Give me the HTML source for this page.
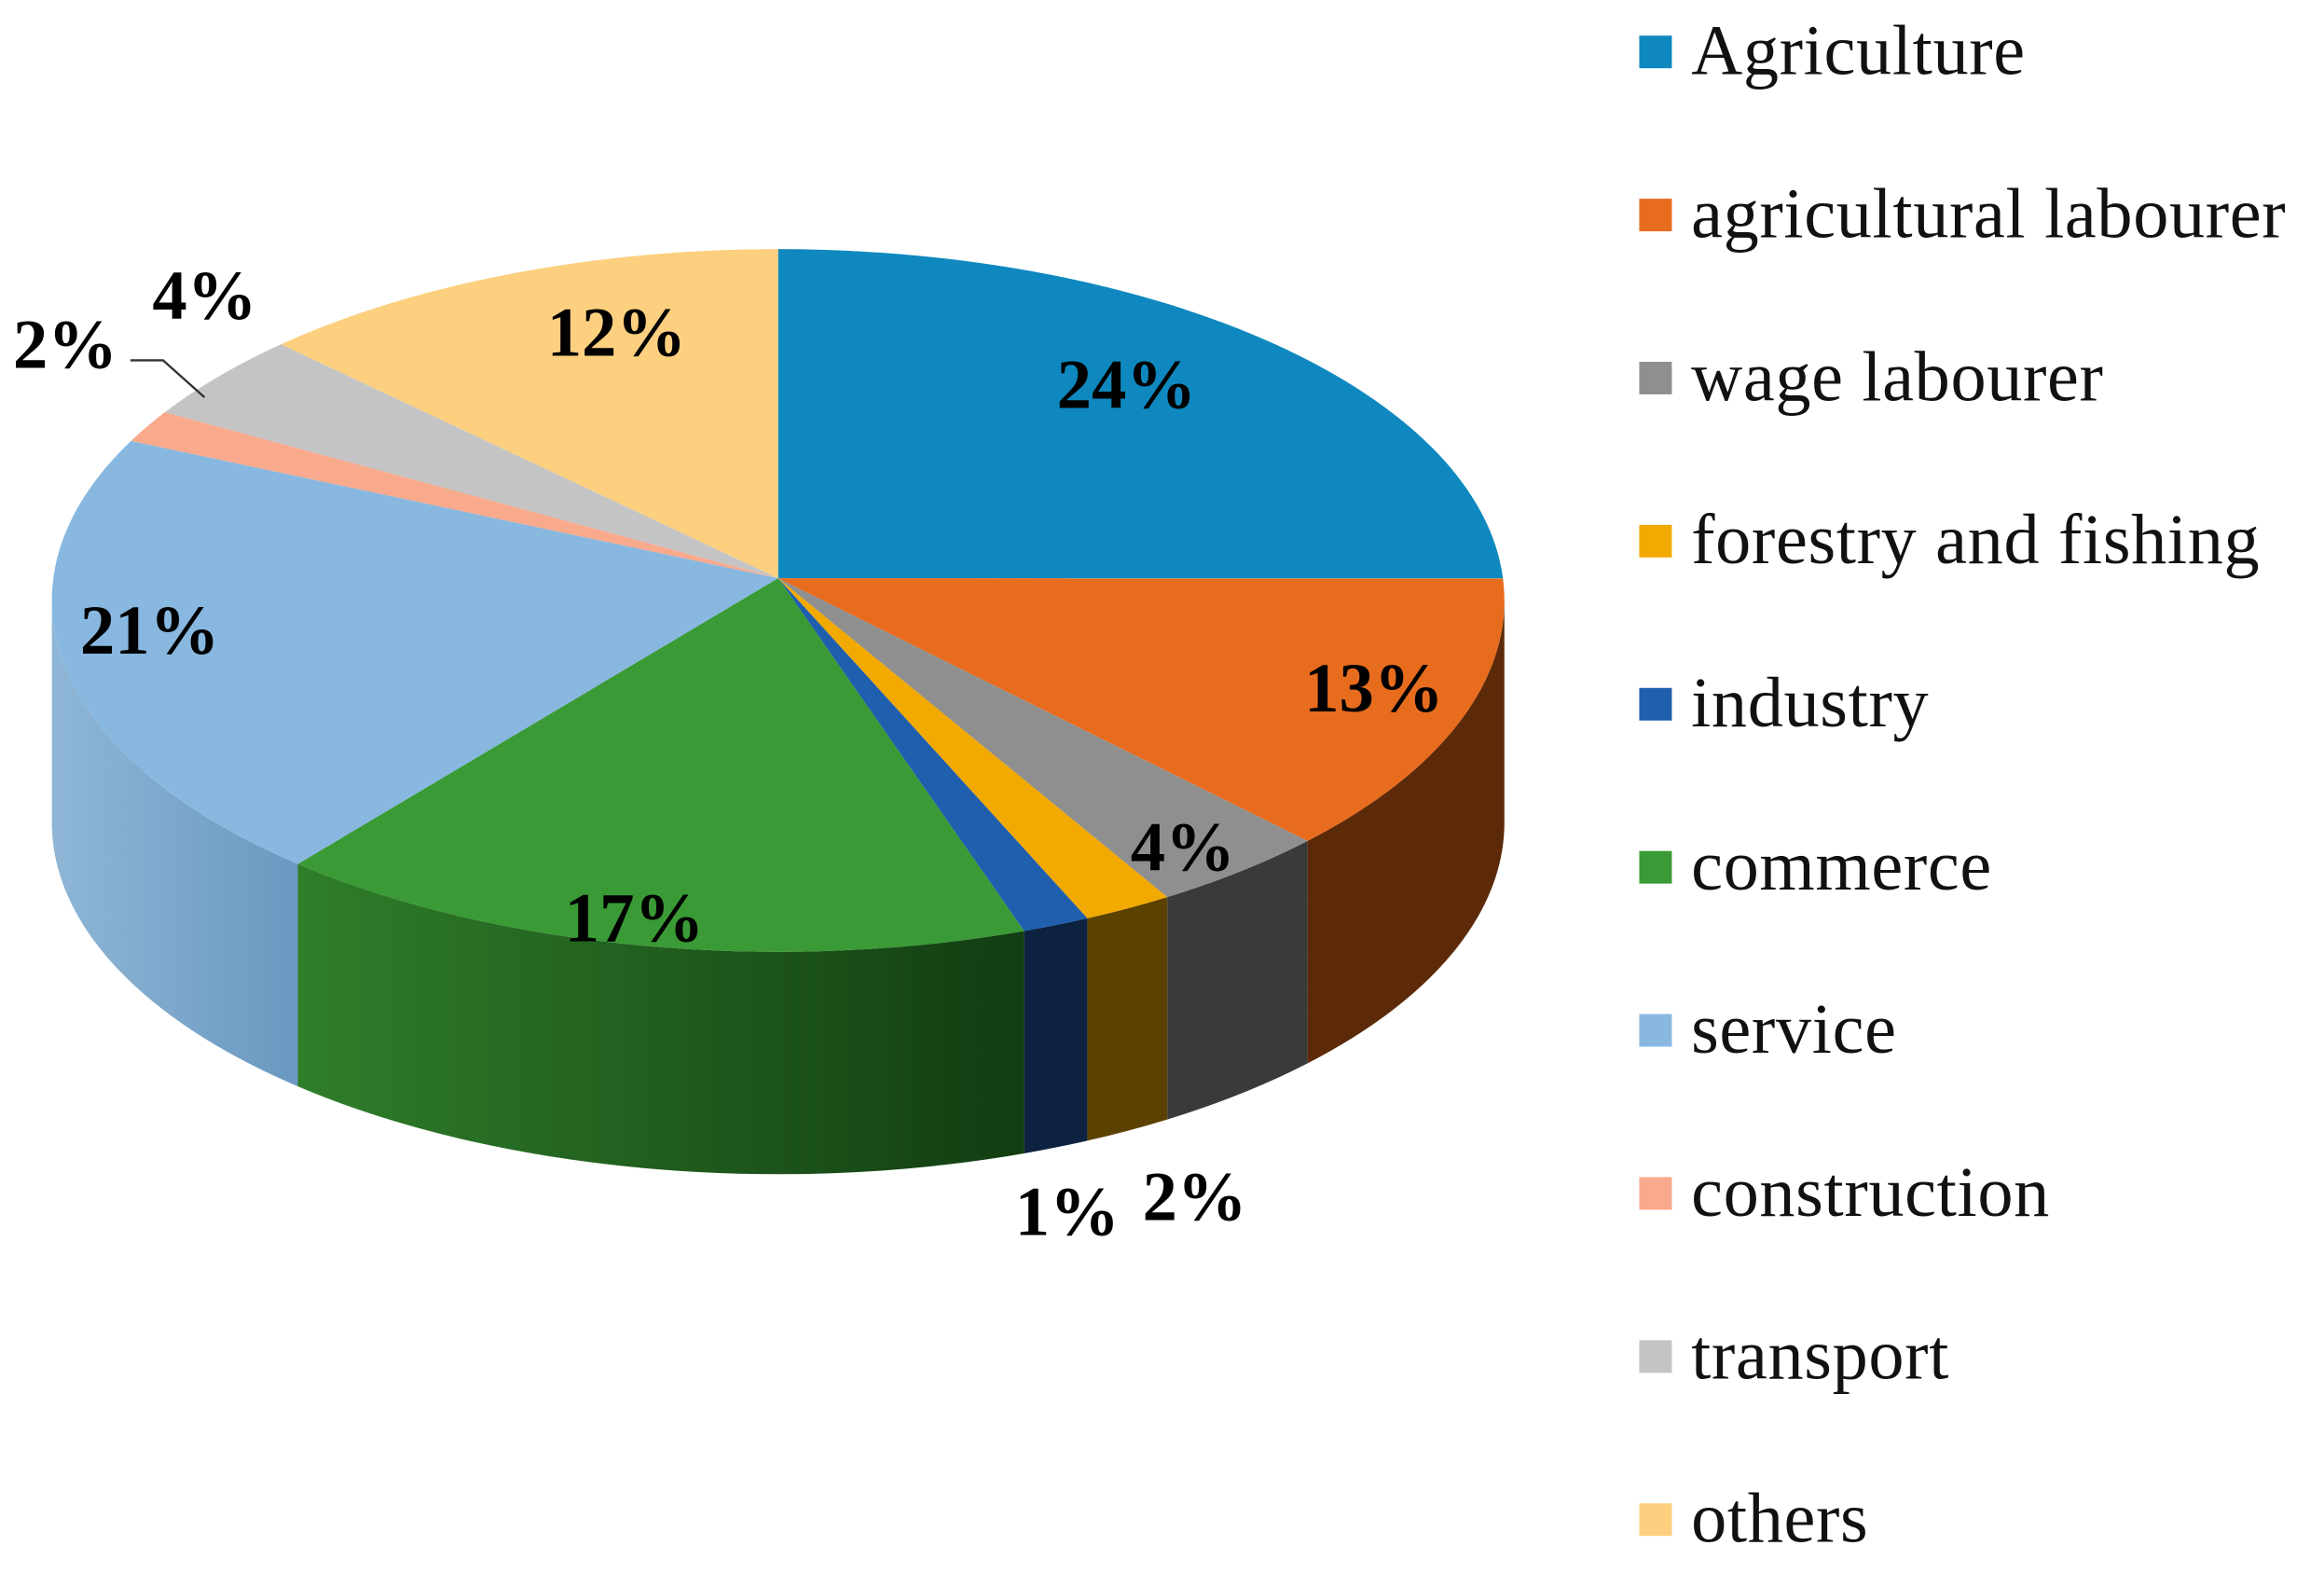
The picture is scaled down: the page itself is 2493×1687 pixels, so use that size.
<!DOCTYPE html>
<html><head><meta charset="utf-8"><style>
html,body{margin:0;padding:0;background:#fff;}
svg{display:block;}
text{font-family:"Liberation Serif",serif;}
</style></head><body>
<svg id="chart" width="2493" height="1687" viewBox="0 0 1568 1061" xmlns="http://www.w3.org/2000/svg">
<defs>
<linearGradient id="gGreen" x1="0" x2="1" y1="0" y2="0"><stop offset="0" stop-color="#2f7e2a"/><stop offset="1" stop-color="#123d12"/></linearGradient>
<linearGradient id="gBlue" x1="0" x2="1" y1="0" y2="0"><stop offset="0" stop-color="#8fb6d6"/><stop offset="1" stop-color="#6a98c0"/></linearGradient>
</defs>
<g id="sides"></g>
<g id="tops"></g>
<g id="labels"></g>
<polyline points="88,243 110,243 138,268" fill="none" stroke="#333" stroke-width="1.5"/>
<g id="legend"></g>
</svg>
<script>
const categories = ["Agriculture","agricultural labourer","wage labourer","forestry and fishing","industry","commerce","service","construction"," transport","others"];
const values = [24,13,4,2,1.5,17,21,1.5,4,12];
const valueLabels = ["24%","13%","4%","2%","1%","17%","21%","2%","4%","12%"];
const topColors = ["#0e88bf","#e86c1e","#8f8f8f","#f2a900","#1f5fae","#3a9a35","#88b8e0","#f9a98c","#c4c4c4","#fdd07f"];
const sideColors = ["#07587c","#5c2a08","#3a3a3a","#5c4200","#0d2240","url(#gGreen)","url(#gBlue)","#b07060","#888","#b09050"];
const labelPos = [[760,260],[927,465],[798,572],[806,808],[720,818],[428,620],[101,426],[44,233],[138,200],[416,225]];

const NS="http://www.w3.org/2000/svg";
const cx=525, cy=405, rx=490, ry=237, depth=150, apexY=390;
const total=values.reduce((a,b)=>a+b,0);
function pt(a,dy){return [cx+rx*Math.sin(a), cy-ry*Math.cos(a)+(dy||0)];}
const sides=document.getElementById('sides'), tops=document.getElementById('tops'), labels=document.getElementById('labels'), legend=document.getElementById('legend');
let acc=0;
values.forEach((v,i)=>{
  const a1=acc/total*2*Math.PI; acc+=v; const a2=acc/total*2*Math.PI;
  const s=Math.max(a1,Math.PI/2), e=Math.min(a2,1.5*Math.PI);
  if(s<e){
    const p1=pt(s),p2=pt(e),p3=pt(e,depth),p4=pt(s,depth);
    const sp=document.createElementNS(NS,'path');
    sp.setAttribute('d',`M${p1} A${rx} ${ry} 0 0 1 ${p2} L${p3} A${rx} ${ry} 0 0 0 ${p4} Z`);
    sp.setAttribute('fill',sideColors[i]);
    
    
    sides.appendChild(sp);
  }
  const q1=pt(a1),q2=pt(a2);
  const large=(a2-a1)>Math.PI?1:0;
  const tp=document.createElementNS(NS,'path');
  tp.setAttribute('d',`M${cx},${apexY} L${q1} A${rx} ${ry} 0 ${large} 1 ${q2} Z`);
  tp.setAttribute('fill',topColors[i]);
  
  
  tops.appendChild(tp);
  const t=document.createElementNS(NS,'text');
  t.setAttribute('x',labelPos[i][0]); t.setAttribute('y',labelPos[i][1]+15);
  t.setAttribute('text-anchor','middle'); t.setAttribute('font-size','47'); t.setAttribute('font-weight','bold');
  t.textContent=valueLabels[i];
  
  
  labels.appendChild(t);
  const y=35+i*110;
  const r=document.createElementNS(NS,'rect');
  r.setAttribute('x',1106); r.setAttribute('y',y-11); r.setAttribute('width',22); r.setAttribute('height',22); r.setAttribute('fill',topColors[i]);
  
  
  legend.appendChild(r);
  const lt=document.createElementNS(NS,'text');
  lt.setAttribute('x',1141); lt.setAttribute('y',y+15); lt.setAttribute('font-size','48'); lt.setAttribute('letter-spacing','0.4'); lt.setAttribute('fill','#111');
  lt.setAttribute('xml:space','preserve');
  lt.textContent=categories[i];
  
  
  legend.appendChild(lt);
});
</script>
</body></html>
